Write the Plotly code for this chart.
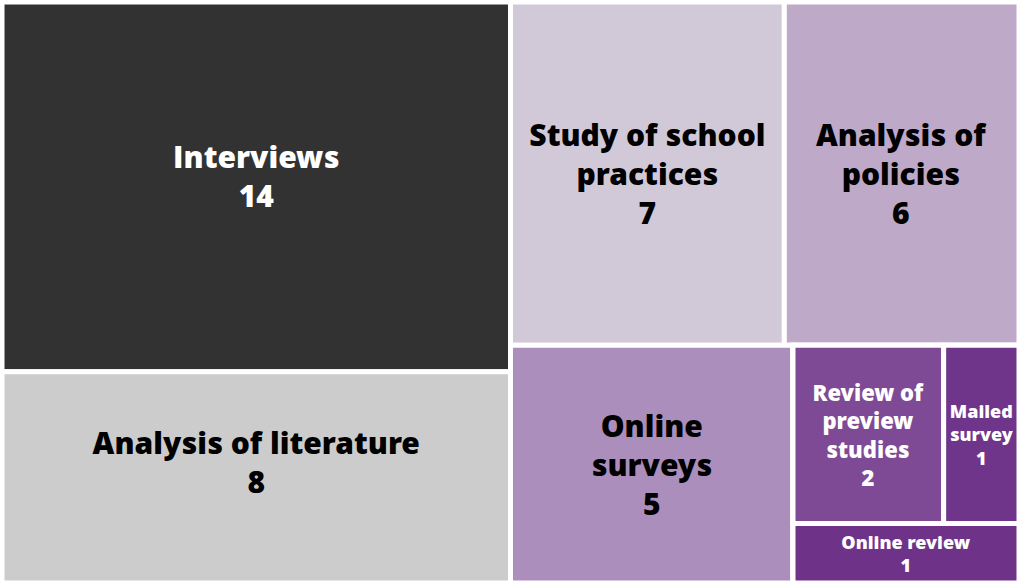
import plotly.graph_objects as go

# --- data ---
categories = ["Interviews", "Analysis of literature", "Study of school practices",
              "Analysis of policies", "Online surveys", "Review of preview studies",
              "Mailed survey", "Online review"]
counts = [14, 8, 7, 6, 5, 2, 1, 1]
display_labels = ["Interviews", "Analysis of literature", "Study of school<br>practices",
                  "Analysis of<br>policies", "Online<br>surveys", "Review of<br>preview<br>studies",
                  "Mailed<br>survey", "Online review"]
tile_colors = ["#323232", "#cccccc", "#d2c9d8", "#bea9c8", "#ac8ebc", "#7e4a95", "#6f358a", "#6e3389"]
text_colors = ["white", "black", "black", "black", "black", "white", "white", "white"]
font_sizes = [30, 30, 30, 30, 30, 22, 18, 18]
# small blank lines above / below the label to nudge it vertically (True/False)
lead_blank = [True, False, False, False, False, False, False, False]
tail_blank = [True, True, False, False, False, False, False, False]

# grouping (how the blocks are nested)
group_ids = ["R", "A", "B", "C", "D", "E", "F"]
group_parents = ["", "R", "R", "B", "B", "D", "E"]
leaf_parents = ["A", "A", "C", "C", "D", "F", "F", "E"]

ids = group_ids + categories
parents = group_parents + leaf_parents
labels = [""] * len(group_ids) + categories
values = [0] * len(group_ids) + counts
texts = [""] * len(group_ids) + display_labels
blank = "<span style='font-size:1px'>&nbsp;</span>"
leaf_templates = []
for lb, tb in zip(lead_blank, tail_blank):
    t = "<b>%{text}<br>%{value}</b>"
    if lb:
        t = blank + "<br>" + t
    if tb:
        t += "<br>" + blank
    leaf_templates.append(t)
templates = [""] * len(group_ids) + leaf_templates
colors = ["white"] * len(group_ids) + tile_colors
tcolors = ["black"] * len(group_ids) + text_colors
tsizes = [10] * len(group_ids) + font_sizes

fig = go.Figure(go.Treemap(
    ids=ids, parents=parents, labels=labels, values=values,
    branchvalues="remainder",
    text=texts, texttemplate=templates,
    textposition="middle center",
    textfont=dict(family="Open Sans ExtraBold, Open Sans", color=tcolors, size=tsizes, weight=800),
    marker=dict(colors=colors, line=dict(color="white", width=5),
                pad=dict(t=0, l=0, r=0, b=0)),
    tiling=dict(packing="binary", pad=0),
    pathbar=dict(visible=False),
    sort=True,
    hoverinfo="none",
))
fig.update_layout(
    width=1021, height=584,
    margin=dict(l=2, r=2, t=2, b=1),
    paper_bgcolor="white",
    hovermode=False,
    uniformtext=dict(minsize=8),
)
fig.write_html("out.html", config={"displayModeBar": False, "staticPlot": True},
               post_script="document.body.style.margin='0';document.body.style.overflow='hidden';")
